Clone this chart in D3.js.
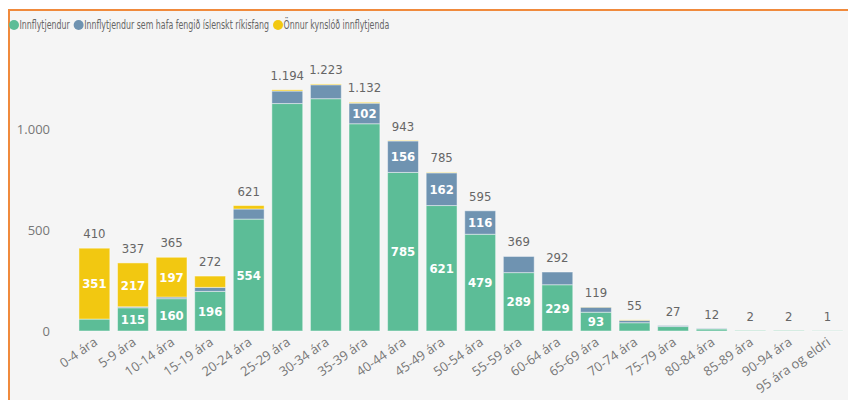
<!DOCTYPE html>
<html>
<head>
<meta charset="utf-8">
<script src="https://cdn.jsdelivr.net/npm/d3@7"></script>
<style>
  body { margin: 0; background: #ffffff; }
  svg { display: block; }
  .tick-label { font-family: "Open Sans", "Noto Sans", sans-serif; font-size: 13px; fill: #777777; }
  .legend-label { font-family: "DejaVu Sans Condensed", "Liberation Sans Narrow", sans-serif; font-size: 12.5px; fill: #666666; }
  .total-label { font-family: "Liberation Sans Narrow", "DejaVu Sans Condensed", sans-serif; font-size: 13px; fill: #666666; }
  .inner-label { font-family: "Liberation Sans Narrow", "DejaVu Sans Condensed", sans-serif; font-size: 13px; font-weight: bold; fill: #ffffff; }
</style>
</head>
<body>
<svg width="848" height="400"></svg>
<script>
// aldurshópar
const categories = ["0-4 ára", "5-9 ára", "10-14 ára", "15-19 ára", "20-24 ára", "25-29 ára", "30-34 ára",
  "35-39 ára", "40-44 ára", "45-49 ára", "50-54 ára", "55-59 ára", "60-64 ára", "65-69 ára", "70-74 ára",
  "75-79 ára", "80-84 ára", "85-89 ára", "90-94 ára", "95 ára og eldri"];

// gildi hverrar raðar
const innflytjendur = [59, 115, 160, 196, 554, 1126, 1150, 1026, 785, 621, 479, 289, 229, 93, 41, 22, 10, 2, 2, 1];
const rikisfang = [0, 5, 8, 20, 50, 62, 69, 102, 156, 162, 116, 80, 63, 25, 12, 5, 2, 0, 0, 0];
const onnurKynslod = [351, 217, 197, 56, 17, 6, 4, 4, 2, 2, 0, 0, 0, 1, 2, 0, 0, 0, 0, 0];

const seriesNames = ["Innflytjendur", "Innflytjendur sem hafa fengið íslenskt ríkisfang", "Önnur kynslóð innflytjenda"];
const seriesColors = ["#5cbd97", "#6f93b1", "#f2c811"];
const yTicks = [0, 500, 1000];

const svg = d3.select("svg");

// bakgrunnur og appelsínugulur rammi
svg.append("rect").attr("x", 9).attr("y", 10).attr("width", 848).attr("height", 400).attr("fill", "#f5f5f5");
svg.append("line").attr("x1", 8).attr("x2", 848).attr("y1", 10).attr("y2", 10)
  .attr("stroke", "#f08a3c").attr("stroke-width", 2);
svg.append("line").attr("x1", 9).attr("x2", 9).attr("y1", 9).attr("y2", 400)
  .attr("stroke", "#f08a3c").attr("stroke-width", 2);

const rows = categories.map((c, i) => ({
  cat: c,
  v0: innflytjendur[i],
  v1: rikisfang[i],
  v2: onnurKynslod[i]
}));
const totals = categories.map((c, i) => innflytjendur[i] + rikisfang[i] + onnurKynslod[i]);

const stack = d3.stack().keys(["v0", "v1", "v2"]);
const stacked = stack(rows);

const x = d3.scaleBand()
  .domain(categories)
  .range([75.1, 846.7])
  .paddingInner(0.2)
  .paddingOuter(0.1);

const y = d3.scaleLinear()
  .domain([0, 1300])
  .range([331, 331 - 0.202 * 1300]);

const fmt = d3.formatLocale({ decimal: ",", thousands: ".", grouping: [3], currency: ["", " kr."] }).format(",d");

// y ás
svg.append("g")
  .selectAll("text")
  .data(yTicks)
  .enter().append("text")
  .attr("class", "tick-label")
  .attr("x", 50)
  .attr("y", d => y(d))
  .attr("dy", "0.35em")
  .attr("text-anchor", "end")
  .text(d => fmt(d));

// súlur
const layer = svg.append("g")
  .selectAll("g")
  .data(stacked)
  .enter().append("g")
  .attr("fill", (d, i) => seriesColors[i]);

layer.selectAll("rect")
  .data(d => d)
  .enter().append("rect")
  .attr("x", d => x(d.data.cat))
  .attr("y", d => y(d[1]))
  .attr("width", x.bandwidth())
  .attr("height", d => Math.max(0, y(d[0]) - y(d[1])))
  .attr("stroke", "rgba(255,255,255,0.45)")
  .attr("stroke-width", 1);

// merkingar inni í súlum
layer.selectAll("text")
  .data(d => d.filter(s => (y(s[0]) - y(s[1])) >= 18 && (s[1] - s[0]) < 1000))
  .enter().append("text")
  .attr("class", "inner-label")
  .attr("x", d => x(d.data.cat) + x.bandwidth() / 2)
  .attr("y", d => (y(d[0]) + y(d[1])) / 2)
  .attr("dy", "0.36em")
  .attr("text-anchor", "middle")
  .text(d => fmt(d[1] - d[0]));

// heildartölur
svg.append("g")
  .selectAll("text")
  .data(categories)
  .enter().append("text")
  .attr("class", "total-label")
  .attr("x", d => x(d) + x.bandwidth() / 2)
  .attr("y", (d, i) => y(totals[i]) - 10)
  .attr("text-anchor", "middle")
  .text((d, i) => fmt(totals[i]));

// x ás
svg.append("g")
  .selectAll("text")
  .data(categories)
  .enter().append("text")
  .attr("class", "tick-label")
  .attr("text-anchor", "end")
  .attr("transform", d => "translate(" + (x(d) + x.bandwidth() / 2 + 4) + ",344) rotate(-35)")
  .text(d => d);

// skýringar - letrið er mjórra í frumritinu, svo textinn er þjappaður lárétt
const squeeze = 0.7;
const legend = svg.append("g");
let lx = 14;
seriesNames.forEach((name, i) => {
  legend.append("circle")
    .attr("cx", lx)
    .attr("cy", 25)
    .attr("r", 5)
    .attr("fill", seriesColors[i]);
  const t = legend.append("text")
    .attr("class", "legend-label")
    .attr("transform", "translate(" + (lx + 5.5) + ",25) scale(" + squeeze + ",1)")
    .attr("dy", "0.35em")
    .text(name);
  const w = t.node().getComputedTextLength() * squeeze;
  lx = lx + 5.5 + w + 9;
});
</script>
</body>
</html>
